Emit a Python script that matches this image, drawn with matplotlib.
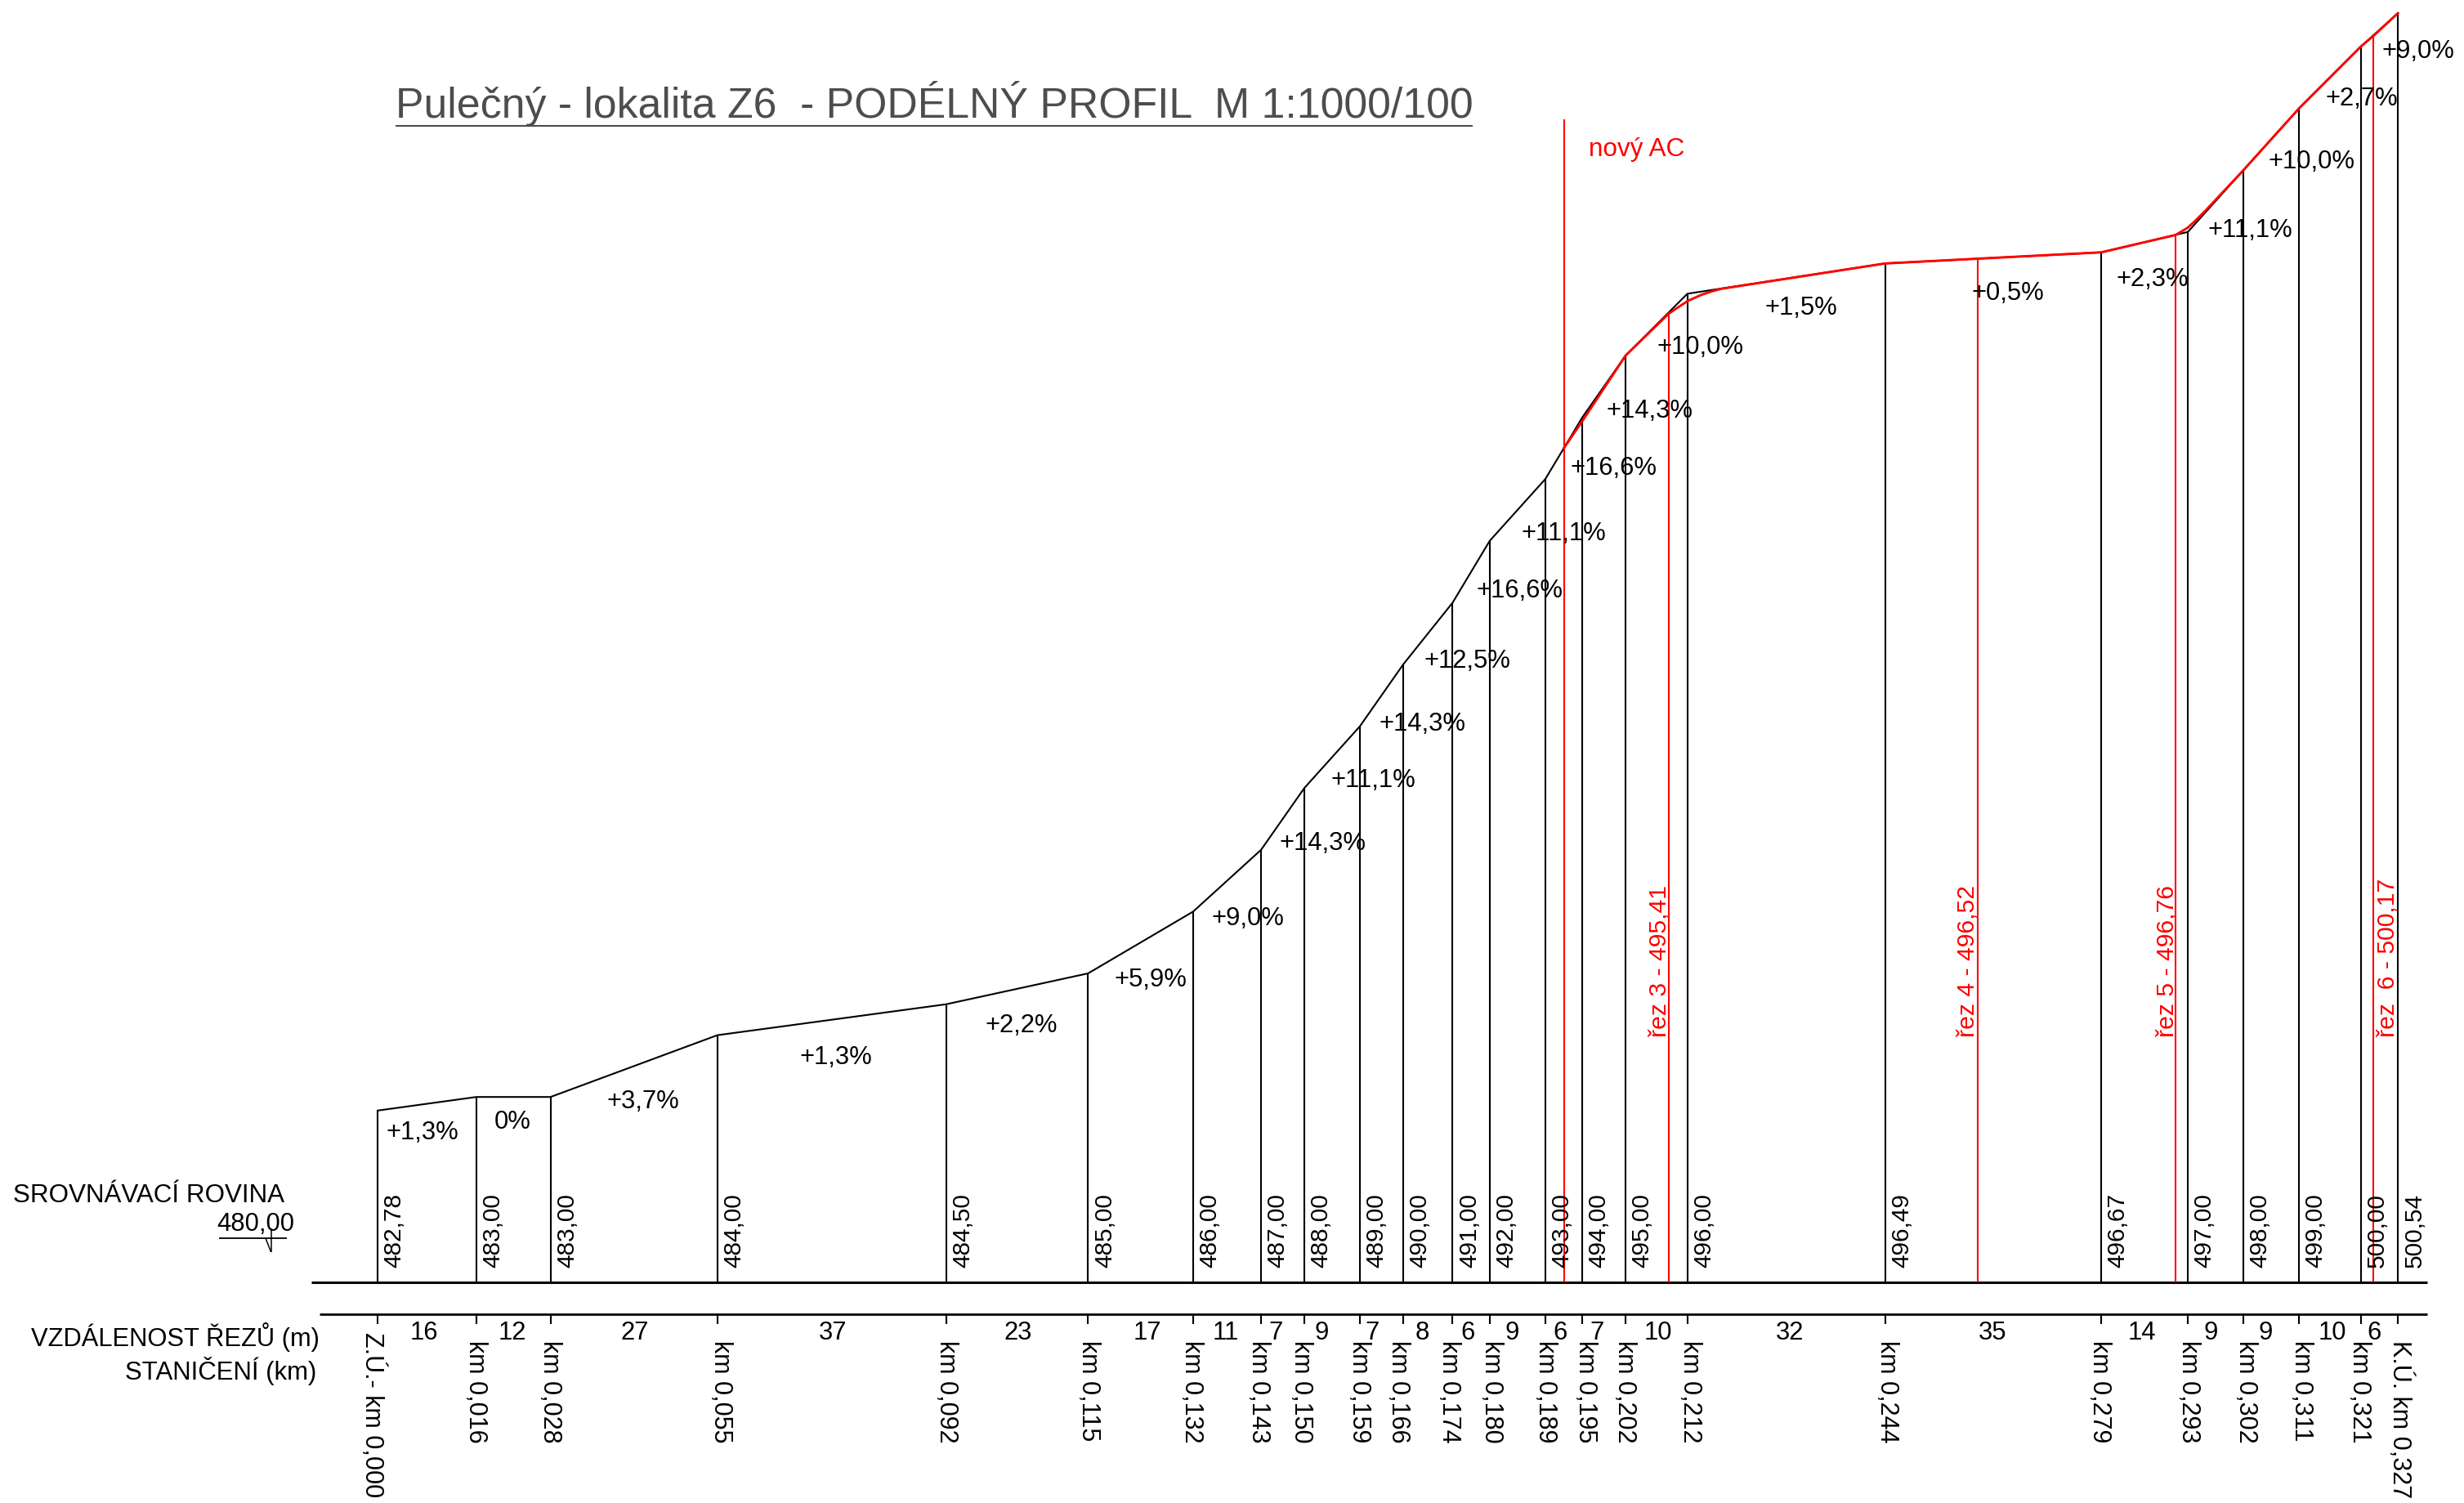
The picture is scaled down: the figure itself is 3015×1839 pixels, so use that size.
import matplotlib
matplotlib.use('Agg')
import matplotlib.pyplot as plt
from matplotlib.transforms import Affine2D

plt.rcParams['font.family'] = ['Liberation Sans', 'DejaVu Sans']

# data
stations = [0, 16, 28, 55, 92, 115, 132, 143, 150, 159, 166, 174, 180, 189, 195, 202, 212,
            244, 279, 293, 302, 311, 321, 327]
elevations = [482.78, 483.00, 483.00, 484.00, 484.50, 485.00, 486.00, 487.00, 488.00, 489.00,
              490.00, 491.00, 492.00, 493.00, 494.00, 495.00, 496.00, 496.49, 496.67, 497.00,
              498.00, 499.00, 500.00, 500.54]
distances = [16, 12, 27, 37, 23, 17, 11, 7, 9, 7, 8, 6, 9, 6, 7, 10, 32, 35, 14, 9, 9, 10, 6]
grades = ['+1,3%', '0%', '+3,7%', '+1,3%', '+2,2%', '+5,9%', '+9,0%', '+14,3%', '+11,1%',
          '+14,3%', '+12,5%', '+16,6%', '+11,1%', '+16,6%', '+14,3%', '+10,0%', '+1,5%',
          '+0,5%', '+2,3%', '+11,1%', '+10,0%', '+2,7%', '+9,0%']

new_stations = [192, 195, 202, 209, 212, 214.2, 216, 217.5, 244, 279, 291, 293, 294.2, 296,
                302, 311, 321, 323, 327]
new_elevations = [493.50, 493.94, 495.00, 495.68, 495.88, 495.98, 496.04, 496.08, 496.49,
                  496.67, 496.95, 497.07, 497.18, 497.36, 498.00, 499.00, 500.00, 500.17, 500.54]
cut_stations = [209, 259, 291, 323]
cut_tops = [495.68, 496.59, 496.95, 500.17]
cut_labels = ['řez 3 - 495,41', 'řez 4 - 496,52', 'řez 5 - 496,76', 'řez  6 - 500,17']
ac_station = 192
ac_top = 498.82
datum = 480.0
title = 'Pulečný - lokalita Z6  - PODÉLNÝ PROFIL  M 1:1000/100'

# label placement, in pixels of the 3015x1839 sheet
grade_x = [269, 326, 409, 532, 650, 732, 794, 842, 874, 905, 934, 967, 995, 1027, 1050, 1082,
           1146, 1278, 1370, 1432, 1471, 1503, 1539]
grade_y = [719, 712, 699, 671, 651, 622, 583, 535, 495, 459, 419, 374, 338, 296, 260, 219,
           194, 185, 176, 145, 101, 61, 31]
dist_x = [270, 326, 404, 530, 648, 730, 780, 812, 841, 873, 905, 934, 962, 993, 1016, 1055,
          1139, 1268, 1363, 1407, 1442, 1484, 1511]
km_x = [457.6, 584, 675, 884, 1160, 1334, 1459.5, 1542, 1594, 1665, 1713, 1775, 1827, 1893,
        1942, 1990, 2070, 2311, 2571, 2680, 2749.5, 2818, 2889, 2939]
cut_x = [2031, 2408, 2652, 2922]
SCALE = 1.9228

fig = plt.figure(figsize=(30.15, 18.39), dpi=100)
ax = fig.add_axes([0, 0, 1, 1])
ax.set_xlim((0 - 462) / 7.56, (3015 - 462) / 7.56)
ax.set_ylim(datum - (1839 - 1569) / 75.6, datum + 1569 / 75.6)
ax.axis('off')

# pixel coordinates measured from the top left of the sheet
sheet = Affine2D().scale(1, -1).translate(0, 1839)
FS = 22.3


def put(x, y, s, **kw):
    kw.setdefault('fontsize', FS)
    kw.setdefault('color', 'black')
    ax.text(x, y, s, transform=sheet, **kw)


def rule(x, y, lw=1.5, color='black'):
    ax.plot(x, y, transform=sheet, color=color, lw=lw, solid_capstyle='butt', clip_on=False)


# profile and section lines
ax.plot(stations, elevations, color='black', lw=1.5, solid_joinstyle='miter')
ax.vlines(stations, datum, elevations, color='black', lw=1.5)
rule([381, 2970], [1569, 1569], lw=2.2)
rule([391, 2970], [1608, 1608], lw=2.0)

for s, e in zip(stations, elevations):
    ax.annotate(f'{e:.2f}'.replace('.', ','), (s, datum), xytext=(28.5, 18),
                textcoords='offset pixels', rotation=90, rotation_mode='anchor',
                ha='left', va='baseline', fontsize=21.5)

# ticks below the lower rule
for s in stations:
    px = 462 + 7.56 * s
    rule([px, px], [1608, 1620], lw=1.5)

# new access road in red
ax.vlines(cut_stations, datum, cut_tops, color='red', lw=1.5)
ax.vlines([ac_station], datum, [ac_top], color='red', lw=1.5)
ax.plot(new_stations, new_elevations, color='red', lw=2.1)

for x, y, g in zip(grade_x, grade_y, grades):
    put(x * SCALE, y * SCALE + 3.5, g, ha='center', va='center')
for x, d in zip(dist_x, distances):
    put(x * SCALE, 1631, str(d), ha='center', va='center')

for i, (x, s) in enumerate(zip(km_x, stations)):
    label = f'km {s / 1000:.3f}'.replace('.', ',')
    top = 1640
    if i == 0:
        label = 'Z.Ú.- ' + label
        top = 1630
    if i == len(km_x) - 1:
        label = 'K.Ú. ' + label
    put(x - 2, top, label, rotation=-90, ha='center', va='top', fontsize=22)

for x, c in zip(cut_x, cut_labels):
    put(x, 1269, c, rotation=90, ha='center', va='bottom', color='red', fontsize=21.7)
put(1944, 183, 'nový AC', color='red', va='center', fontsize=22.7)

# title with its underline
put(484, 144, title, fontsize=37.3, color='#4d4d4d', va='baseline')
rule([484, 1802], [154, 154], lw=1.5, color='#4d4d4d')

# datum plane note on the left
put(16, 1471, 'SROVNÁVACÍ ROVINA', va='baseline', fontsize=22.6)
put(265, 1506, '480,00', va='baseline')
rule([268, 351], [1515, 1515], lw=1.3)
rule([331.6, 331.6], [1503, 1532], lw=1.1)
rule([325, 331.6], [1515, 1532], lw=1.1)
put(391, 1647, 'VZDÁLENOST ŘEZŮ (m)', ha='right', va='baseline', fontsize=22.2)
put(387, 1688, 'STANIČENÍ (km)', ha='right', va='baseline', fontsize=22.4)

fig.savefig('out.png', dpi=100)
